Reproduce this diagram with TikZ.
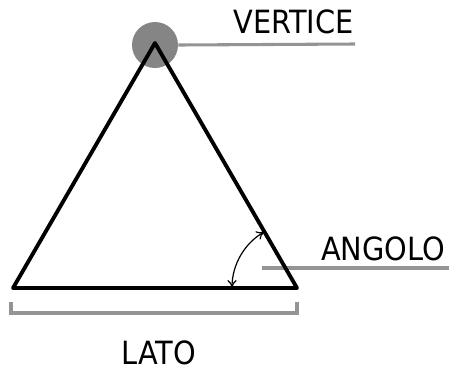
\documentclass[tikz,border=0pt]{standalone}
\usepackage{fontspec}
\setmainfont{DejaVu Sans Condensed}
\usetikzlibrary{positioning,arrows.meta,calc}
\definecolor{edgeBlack}{HTML}{000000}
\definecolor{leaderGray}{HTML}{949494}
\definecolor{dotGray}{HTML}{858585}
\tikzset{
    side/.style={draw=edgeBlack,line width=2.9pt,line join=round,line cap=round},
    leader/.style={draw=leaderGray,line width=2.3pt},
    label/.style={inner sep=0pt,text depth=0pt,font=\fontsize{24}{28}\selectfont},
    anglearrow/.style={{To[length=6pt,width=7pt]}-{To[length=6pt,width=7pt]},
        draw=edgeBlack,line width=0.9pt}
}
\begin{document}
\begin{tikzpicture}[x=0.75pt,y=-0.75pt]
        \useasboundingbox (0,0) rectangle (449,369);
        % vertici del triangolo
        \coordinate (top) at (155,43);
        \coordinate (left) at (13,288);
        \coordinate (right) at (297,288);

        % cerchio sul vertice e linea verso la scritta
        \node[circle,fill=dotGray,minimum size=46*0.75pt,inner sep=0pt] (dot) at (155,45) {};
        \coordinate (vline) at (355,44);
        \draw[leader] (dot.east) -- (vline);
        \node[label,anchor=base east] (vertice) at (354,33) {VERTICE};

        % linea dell'angolo (sotto il lato)
        \coordinate (aline) at (262,268);
        \coordinate (aend) at (449,268);
        \draw[leader] (aline) -- (aend);
        \node[label,anchor=base east] (angolo) at (445,260) {ANGOLO};

        % triangolo
        \draw[side] (top) -- (right) -- (left) -- cycle;

        % arco dell'angolo
        \draw[anglearrow] ($(right)+(180:65)$) arc[start angle=180,end angle=240,radius=65];

        % parentesi del lato
        \coordinate (bl) at (11,302);
        \coordinate (br) at (297,302);
        \draw[leader] (bl) -- ++(0,11) -| (br);
        \node[label,anchor=base] (lato) at (159,364) {LATO};
\end{tikzpicture}
\end{document}
